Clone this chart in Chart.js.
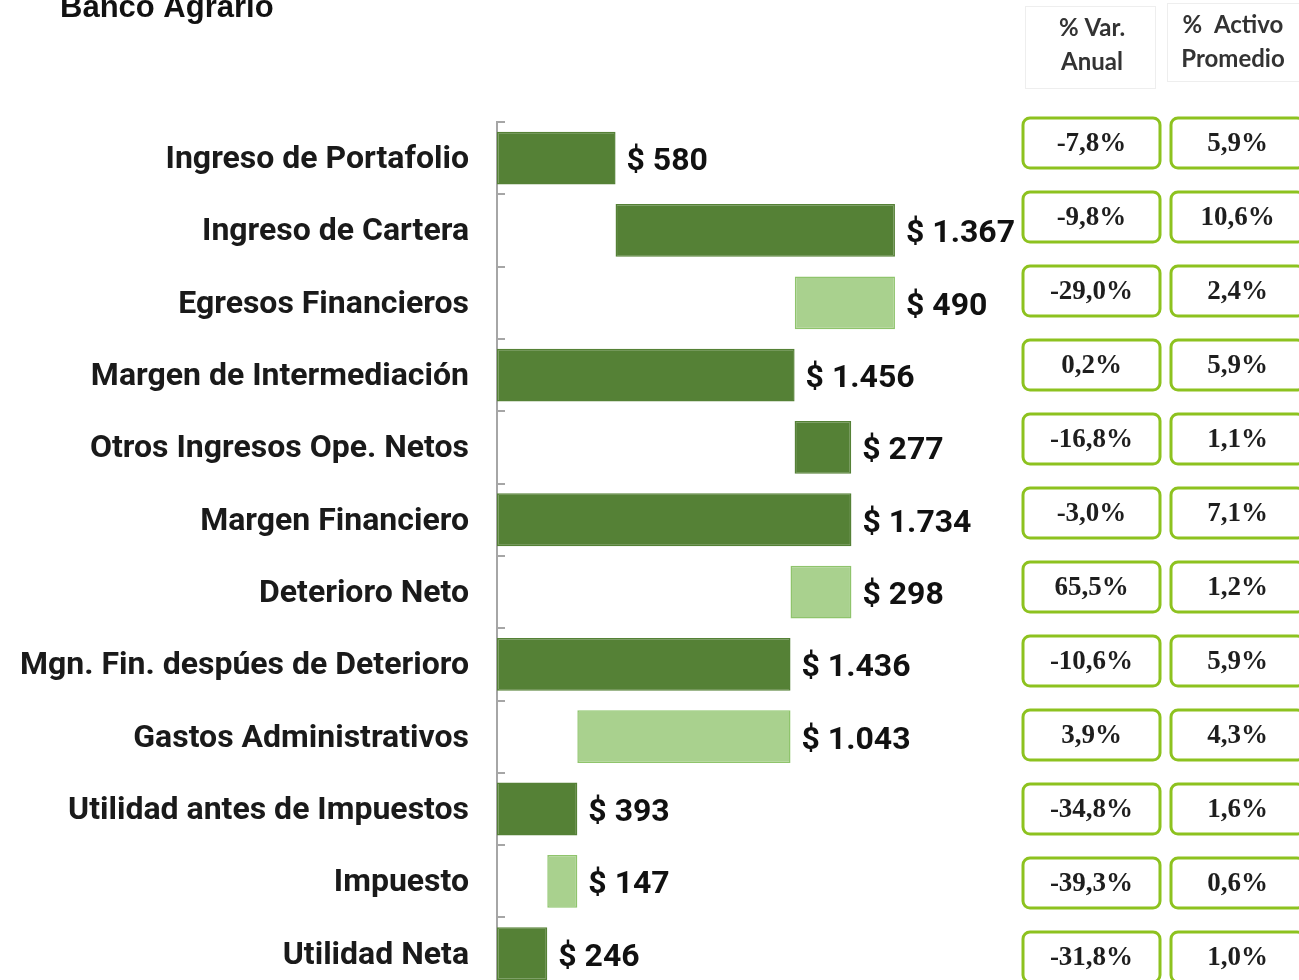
<!DOCTYPE html>
<html>
<head>
<meta charset="utf-8">
<title>Banco Agrario</title>
<script src="https://cdn.jsdelivr.net/npm/chart.js@4/dist/chart.umd.min.js"></script>
<style>
  html, body { margin: 0; padding: 0; background: #fff; overflow: hidden; }
  #wrap { width: 1299px; height: 980px; overflow: hidden; position: relative; }
  canvas { display: block; }
</style>
</head>
<body>
<div id="wrap"><canvas id="pyg" width="1299" height="1037"></canvas></div>
<script>
const categories = [
    'Ingreso de Portafolio',
    'Ingreso de Cartera',
    'Egresos Financieros',
    'Margen de Intermediación',
    'Otros Ingresos Ope. Netos',
    'Margen Financiero',
    'Deterioro Neto',
    'Mgn. Fin. despúes de Deterioro',
    'Gastos Administrativos',
    'Utilidad antes de Impuestos',
    'Impuesto',
    'Utilidad Neta'
];
// miles de millones
const values = [580, 1367, 490, 1456, 277, 1734, 298, 1436, 1043, 393, 147, 246];
// total = desde cero, up = suma, down = resta
const kinds = ['total', 'up', 'down', 'total', 'up', 'total', 'down', 'total', 'down', 'total', 'down', 'total'];
const varAnual = ['-7,8%', '-9,8%', '-29,0%', '0,2%', '-16,8%', '-3,0%', '65,5%', '-10,6%', '3,9%', '-34,8%', '-39,3%', '-31,8%'];
const activoPromedio = ['5,9%', '10,6%', '2,4%', '5,9%', '1,1%', '7,1%', '1,2%', '5,9%', '4,3%', '1,6%', '0,6%', '1,0%'];
const tableHeaders = [['% Var.', 'Anual'], ['%  Activo', 'Promedio']];

const DARK = '#558136';
const LIGHT = '#a9d18e';

// floating bars for the waterfall
const ranges = [];
let running = 0;
values.forEach((v, i) => {
    if (kinds[i] === 'total') {
        ranges.push([0, v]);
        running = v;
    } else if (kinds[i] === 'up') {
        ranges.push([running, running + v]);
        running += v;
    } else {
        ranges.push([running - v, running]);
        running -= v;
    }
});

const fmt = v => '$ ' + v.toLocaleString('es-CO');

const extras = {
    id: 'extras',
    afterDatasetsDraw(chart) {
        const { ctx, scales } = chart;
        const y = scales.y;
        const meta = chart.getDatasetMeta(0);
        ctx.save();

        // little ticks inside the axis between categories
        ctx.strokeStyle = '#a6a6a6';
        ctx.lineWidth = 2;
        for (let i = 0; i <= categories.length; i++) {
            const py = Math.round(y.getPixelForValue(i - 0.5));
            ctx.beginPath();
            ctx.moveTo(y.right, py);
            ctx.lineTo(y.right + 8, py);
            ctx.stroke();
        }

        // value labels next to each bar
        ctx.fillStyle = '#111';
        ctx.font = 'bold 32px Roboto';
        ctx.textBaseline = 'middle';
        ctx.textAlign = 'left';
        meta.data.forEach((bar, i) => {
            const end = Math.max(bar.x, bar.base);
            ctx.fillText(fmt(values[i]), end + 11, bar.y + 4);
        });

        // title
        ctx.font = 'bold 31px "Liberation Sans"';
        ctx.textBaseline = 'alphabetic';
        ctx.fillText('Banco Agrario', 60, 17);

        // table headers
        const cols = [{ x: 1023, w: 137 }, { x: 1171, w: 133 }];
        const headTop = [6, 3];
        const headCx = [1092, 1233];
        ctx.strokeStyle = '#eeeeee';
        ctx.lineWidth = 1;
        ctx.strokeRect(1025.5, 6.5, 130, 82);
        ctx.strokeRect(1167.5, 3.5, 140, 78);
        ctx.fillStyle = '#333';
        ctx.font = 'bold 24px Lato';
        ctx.textAlign = 'center';
        ctx.textBaseline = 'middle';
        tableHeaders.forEach((lines, c) => {
            lines.forEach((t, k) => ctx.fillText(t, headCx[c], headTop[c] + 22 + k * 34));
        });

        // table cells, one row per category, slightly wider pitch than the bars
        const rowPitch = 74;
        ctx.font = 'bold 27px "Liberation Serif"';
        [varAnual, activoPromedio].forEach((col, c) => {
            col.forEach((txt, i) => {
                const cy = y.top + 21 + i * rowPitch;
                ctx.beginPath();
                ctx.roundRect(cols[c].x, cy - 25, cols[c].w, 50, 7);
                ctx.fillStyle = '#fff';
                ctx.fill();
                ctx.strokeStyle = '#8dc21f';
                ctx.lineWidth = 3;
                ctx.stroke();
                ctx.fillStyle = '#1e1e1e';
                ctx.fillText(txt, cols[c].x + cols[c].w / 2, cy + 1);
            });
        });
        ctx.restore();
    }
};

new Chart(document.getElementById('pyg'), {
    type: 'bar',
    data: {
        labels: categories,
        datasets: [{
            data: ranges,
            backgroundColor: kinds.map(k => k === 'down' ? LIGHT : DARK),
            borderColor: kinds.map(k => k === 'down' ? '#8fc46c' : DARK),
            borderWidth: 1.5,
            borderSkipped: false,
            barPercentage: 0.73,
            categoryPercentage: 1
        }]
    },
    options: {
        indexAxis: 'y',
        responsive: false,
        animation: false,
        layout: { padding: { top: 122, right: 291, bottom: 0, left: 0 } },
        plugins: { legend: { display: false }, tooltip: { enabled: false } },
        scales: {
            x: { display: false, min: 0, max: 2500 },
            y: {
                grid: { display: false, drawTicks: false },
                border: { display: true, color: '#a6a6a6', width: 2 },
                ticks: {
                    color: '#1a1a1a',
                    padding: 28,
                    labelOffset: 2,
                    font: { family: 'Roboto', size: 32, weight: 'bold' }
                },
                afterFit(scale) { scale.width = 497; }
            }
        }
    },
    plugins: [extras]
});
</script>
</body>
</html>
